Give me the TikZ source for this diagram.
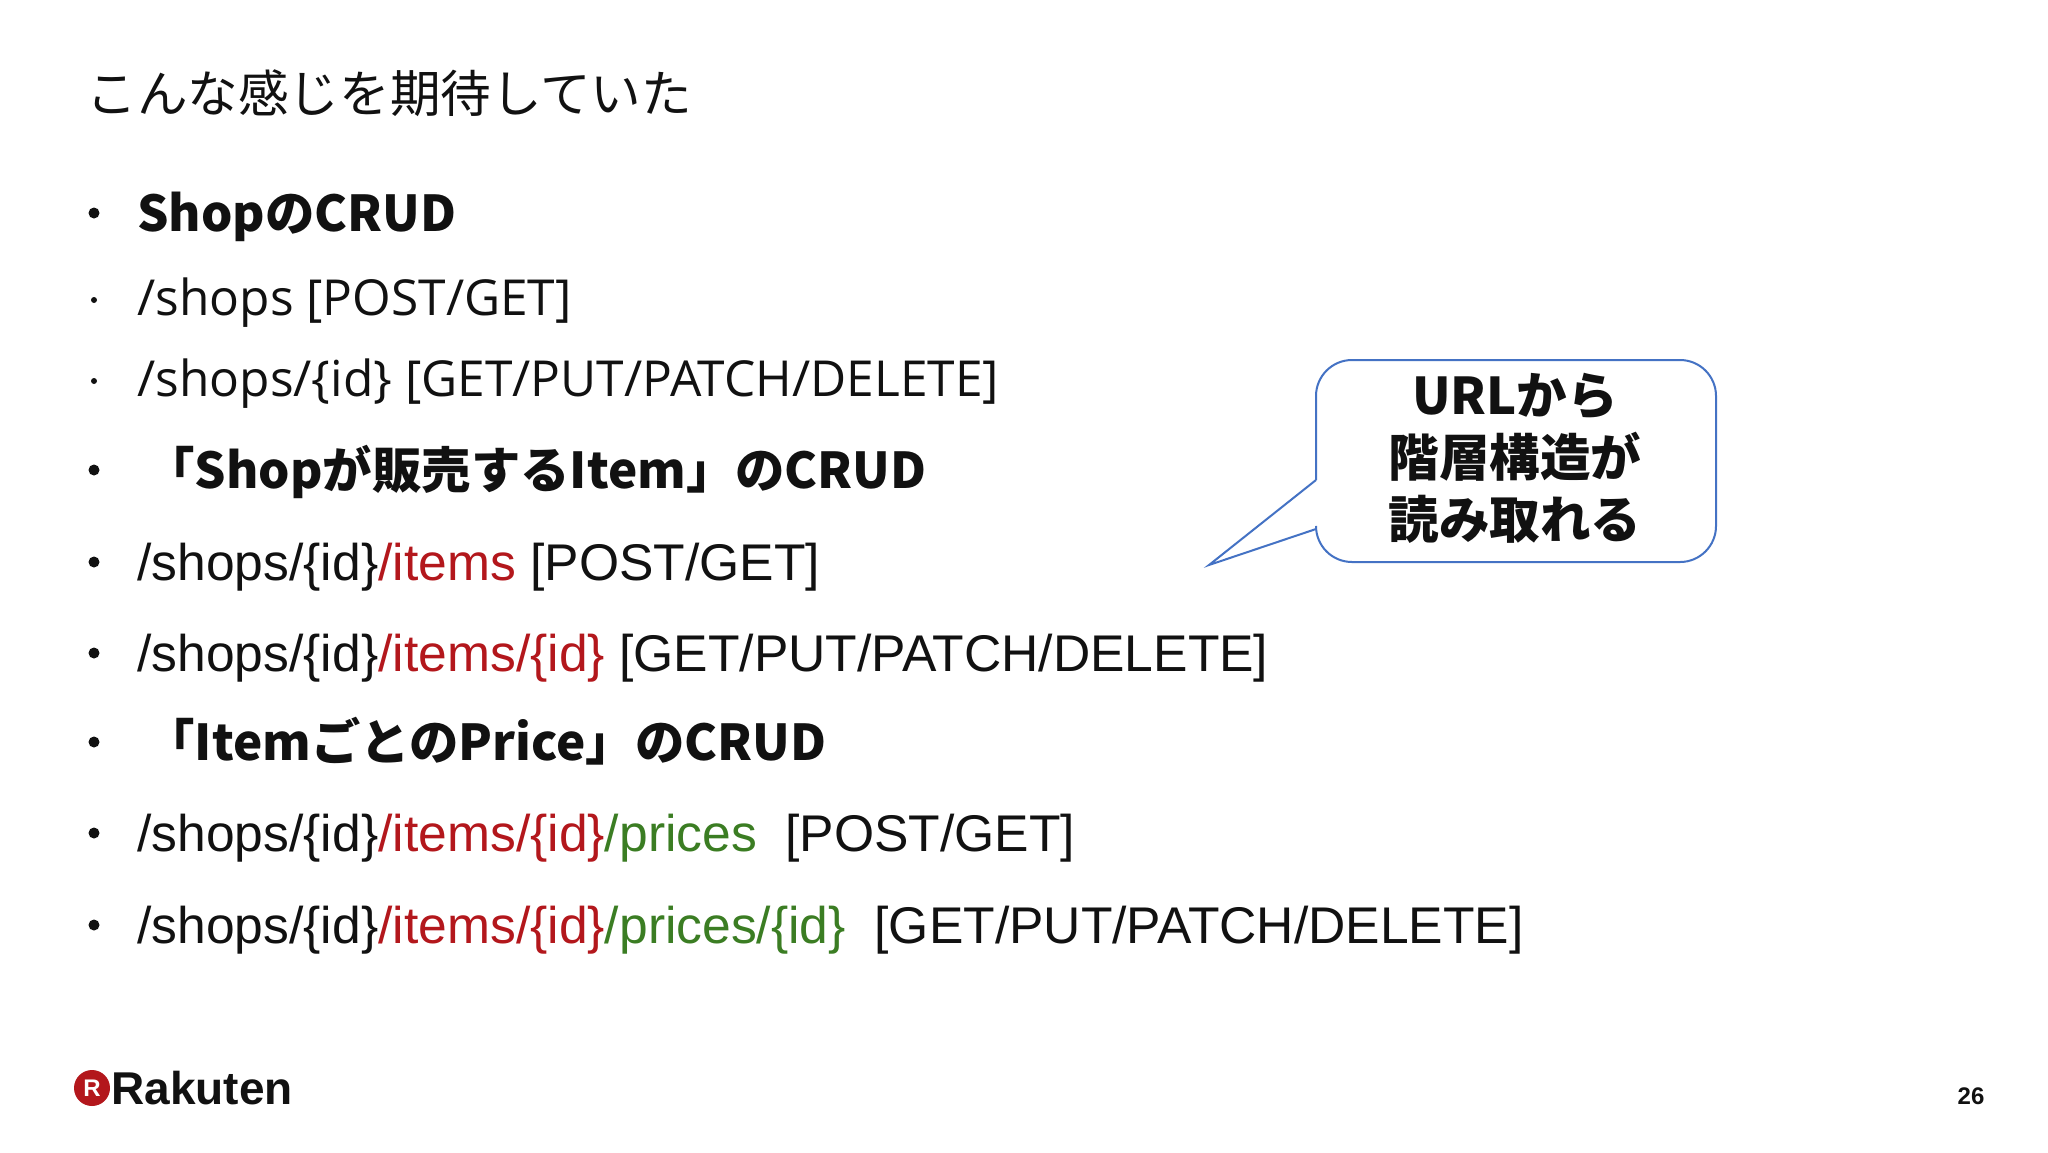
\documentclass[tikz,border=0pt]{standalone}
\usepackage{fontspec}
\setmainfont{Liberation Sans}
\newfontfamily\jp{Noto Sans CJK JP}
\newfontfamily\os{Open Sans}
\definecolor{rred}{HTML}{B3171C}
\definecolor{rgreen}{HTML}{3B7D23}
\definecolor{cblue}{HTML}{4472C4}
\definecolor{txt}{HTML}{111111}
\begin{document}
\begin{tikzpicture}[x=0.5pt,y=-0.5pt,
  line/.style={anchor=base west,inner sep=0pt,text=txt},
  big/.style={font=\fontsize{25.8}{30}\selectfont},
  small/.style={font=\os\fontsize{24.8}{28}\selectfont},
  head/.style={font=\jp\bfseries\fontsize{24.7}{28}\selectfont},
  dot/.style={circle,fill=txt,inner sep=0pt}]
\useasboundingbox (0,0) rectangle (2048,1152);
\fill[white] (0,0) rectangle (2048,1152);
\node[line,font=\jp\fontsize{25.3}{28}\selectfont] (title) at (86,112) {こんな感じを期待していた};
% bullets
\foreach \y/\s in {213/11,300/6,381/6,470/11,562/11,653/11,742/11,833/11,925/11}
  \node[dot,minimum size=\s*0.5pt] at (94,\y) {};
\node[line,head] (l1) at (137,231) {ShopのCRUD};
\node[line,small] (l2) at (137,315) {/shops [POST/GET]};
\node[line,small] (l3) at (137,396) {/shops/\{id\} [GET/PUT/PATCH/DELETE]};
\node[line,head] (l4) at (145,488) {「Shopが販売するItem」のCRUD};
\node[line,big] (l5) at (137,580) {/shops/\{id\}\textcolor{rred}{/items} [POST/GET]};
\node[line,big] (l6) at (137,671) {/shops/\{id\}\textcolor{rred}{/items/\{id\}} [GET/PUT/PATCH/DELETE]};
\node[line,head] (l7) at (145,760) {「ItemごとのPrice」のCRUD};
\node[line,big] (l8) at (137,851) {/shops/\{id\}\textcolor{rred}{/items/\{id\}}\textcolor{rgreen}{/prices}\ \ [POST/GET]};
\node[line,big] (l9) at (137,943) {/shops/\{id\}\textcolor{rred}{/items/\{id\}}\textcolor{rgreen}{/prices/\{id\}}\ \ [GET/PUT/PATCH/DELETE]};
% callout
\draw[cblue,line width=1pt,fill=white,rounded corners=18pt]
  (1316,480) -- (1316,360) -- (1716,360) -- (1716,562) -- (1316,562) -- (1316,529);
\coordinate (tip) at (1209,565);
\draw[cblue,line width=1pt] (1316,480) -- (tip) -- (1316,529);
\node[align=center,font=\jp\bfseries\fontsize{25.3}{31}\selectfont,text=txt] (call) at (1515,458)
  {URLから\\階層構造が\\読み取れる};
% logo
\node[circle,fill=rred,minimum size=18pt,inner sep=0pt,text=white,font=\bfseries\fontsize{12}{12}\selectfont] (logo) at (92,1088) {R};
\node[anchor=west,inner sep=0pt,font=\bfseries\fontsize{23}{23}\selectfont,text=txt] (rak) at (111,1088) {Rakuten};
\node[font=\bfseries\fontsize{12}{12}\selectfont,text=txt] (pg) at (1971,1096) {26};
\end{tikzpicture}
\end{document}
